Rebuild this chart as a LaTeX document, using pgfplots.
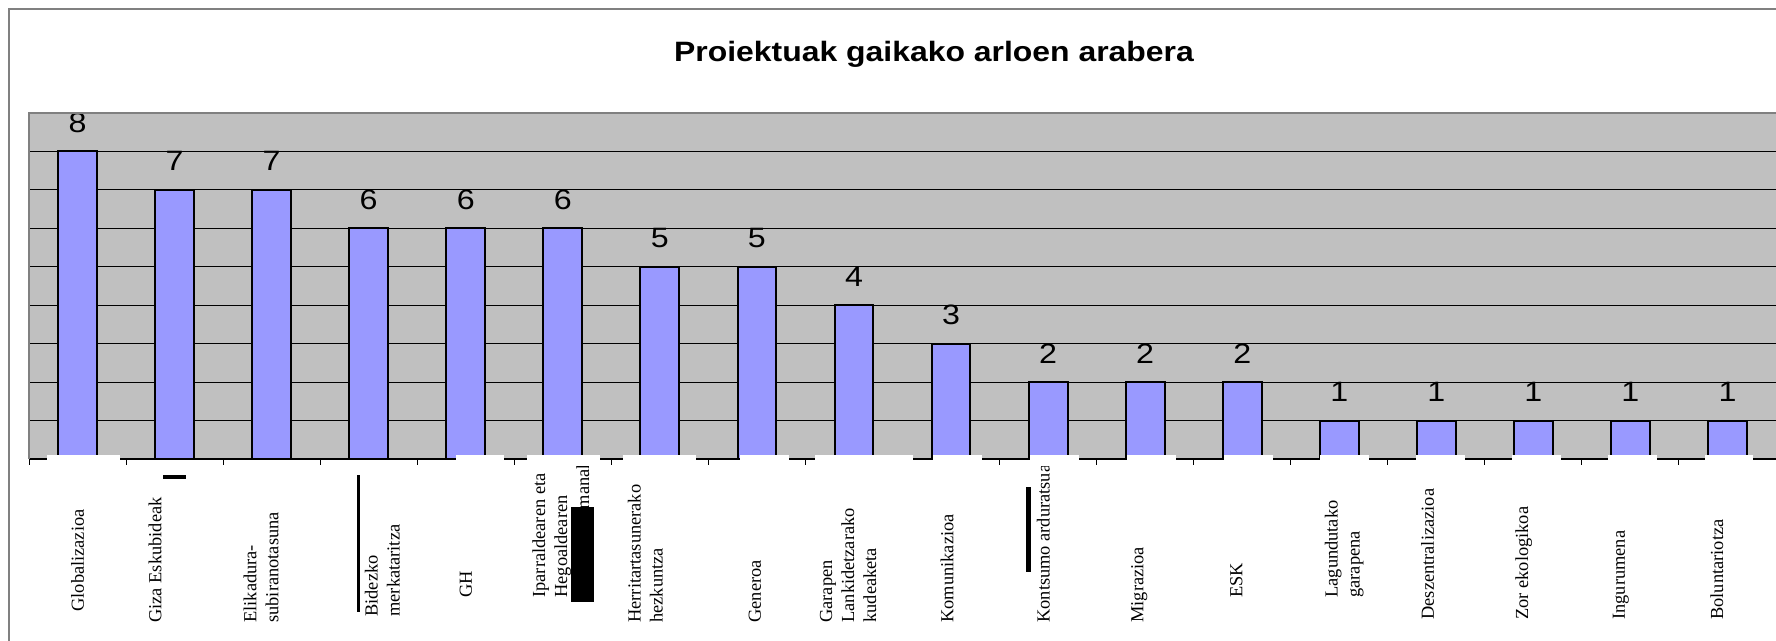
\documentclass[border=0pt]{standalone}
\usepackage{fontspec}
\setmainfont{Liberation Serif}
\newfontfamily\arialfont{Liberation Sans}
\usepackage{pgfplots}
\usepackage{pgfplotstable}
\pgfplotsset{compat=1.18}

\definecolor{plotbg}{HTML}{C0C0C0}
\definecolor{barblue}{HTML}{9999FF}
\definecolor{framegray}{HTML}{808080}

% proiektu kopurua gaikako arloka
\pgfplotstableread{
pos count
0  8
1  7
2  7
3  6
4  6
5  6
6  5
7  5
8  4
9  3
10 2
11 2
12 2
13 1
14 1
15 1
16 1
17 1
}\gaiak

\begin{document}
\begin{tikzpicture}
\begin{axis}[
  set layers, clip=false,
  at={(0pt,0pt)}, anchor=south west,
  scale only axis, width=873.5pt, height=173pt,
  xmin=-0.5, xmax=17.5, ymin=0, ymax=9,
  /pgf/number format/assume math mode=true,
  axis line style={draw=none},
  axis background/.style={fill=plotbg},
  xtick={-0.5,0.5,...,17.5}, xticklabels={}, xtick pos=bottom,
  tick align=outside, major tick length=3pt,
  x tick style={black, line width=0.5pt},
  ytick={1,...,8}, yticklabels={}, ytick style={draw=none},
  ymajorgrids, grid style={black, line width=0.5pt},
  extra x ticks={0.0,0.80,1.89,3.14,4.0,4.98,5.85,6.98,7.94,8.96,9.95,10.94,11.94,13.05,13.91,14.90,15.90,16.89},
  extra x tick labels={
    \hspace*{5.5pt}Globalizazioa,
    Giza Eskubideak,
    {Elikadura-\\subiranotasuna},
    {\hspace*{3pt}Bidezko\\\hspace*{3pt}merkataritza},
    \hspace*{12.5pt}GH,
    {\hspace*{12.5pt}Iparraldearen eta\\\hspace*{12.5pt}Hegoaldearen\\\hspace*{12.5pt}arteko harremanak},
    {Herritartasunerako\\hezkuntza},
    Generoa,
    {Garapen\\Lankidetzarako\\kudeaketa},
    Komunikazioa,
    Kontsumo arduratsua,
    Migrazioa,
    \hspace*{12.5pt}ESK,
    {\hspace*{12.5pt}Lagundutako\\\hspace*{12.5pt}garapena},
    \hspace*{1.5pt}Deszentralizazioa,
    \hspace*{1.5pt}Zor ekologikoa,
    \hspace*{1.5pt}Ingurumena,
    \hspace*{1.5pt}Boluntariotza},
  extra x tick style={major tick length=0pt, tick style={draw=none},
    xticklabel style={yshift=-82pt, rotate=90, anchor=west, inner sep=0pt,
      align=left, font=\fontsize{9.2}{11}\selectfont}},
  ybar, bar width=0.4,
]
\addplot[fill=barblue, draw=black, line width=1pt,
  nodes near coords,
  every node near coord/.append style={font=\arialfont\fontsize{14}{14}\selectfont,
    xscale=1.15, anchor=south, inner sep=0pt, yshift=9pt}]
  table[x=pos, y=count] {\gaiak};
\draw[black, line width=0.8pt] (axis cs:-0.5,0) -- (axis cs:17.5,0);
% etiketen atzeko zuriak
\fill[white] (axis cs:-0.314,0.104) rectangle (axis cs:0.438,-0.182);
\fill[white] (axis cs:3.902,0.104) rectangle (axis cs:4.397,-0.182);
\fill[white] (axis cs:4.634,0.104) rectangle (axis cs:5.387,-0.182);
\fill[white] (axis cs:5.624,0.104) rectangle (axis cs:6.376,-0.182);
\fill[white] (axis cs:6.830,0.104) rectangle (axis cs:7.335,-0.182);
\fill[white] (axis cs:7.603,0.104) rectangle (axis cs:8.603,-0.182);
\fill[white] (axis cs:8.809,0.104) rectangle (axis cs:9.314,-0.182);
\fill[white] (axis cs:9.809,0.104) rectangle (axis cs:10.314,-0.182);
\fill[white] (axis cs:10.809,0.104) rectangle (axis cs:11.314,-0.182);
\fill[white] (axis cs:11.809,0.104) rectangle (axis cs:12.314,-0.182);
\fill[white] (axis cs:12.799,0.104) rectangle (axis cs:13.304,-0.182);
\fill[white] (axis cs:13.789,0.104) rectangle (axis cs:14.294,-0.182);
\fill[white] (axis cs:14.778,0.104) rectangle (axis cs:15.284,-0.182);
\fill[white] (axis cs:15.768,0.104) rectangle (axis cs:16.273,-0.182);
\fill[white] (axis cs:16.768,0.104) rectangle (axis cs:17.263,-0.182);
\end{axis}
\begin{scope}[x=0.5pt, y=-0.5pt, shift={(-14.5pt,229.5pt)}]
  \draw[framegray, line width=0.6pt] (9,641) -- (9,9) -- (1776,9);
  \draw[framegray, line width=1pt] (29,459) -- (29,113) -- (1776,113);
  \fill[black] (163,475) rectangle (186,479);
  \fill[black] (357,475) rectangle (359.5,612);
  \fill[black] (571,507) rectangle (594,602);
  \fill[black] (1026,487) rectangle (1031,572);
  \node[font=\arialfont\bfseries\fontsize{14}{14}\selectfont, xscale=1.14, anchor=base]
    at (934,62) {Proiektuak gaikako arloen arabera};
\end{scope}
\pgfresetboundingbox
\useasboundingbox (-14.5pt,-91pt) rectangle (873.5pt,229.5pt);
\end{tikzpicture}
\end{document}
